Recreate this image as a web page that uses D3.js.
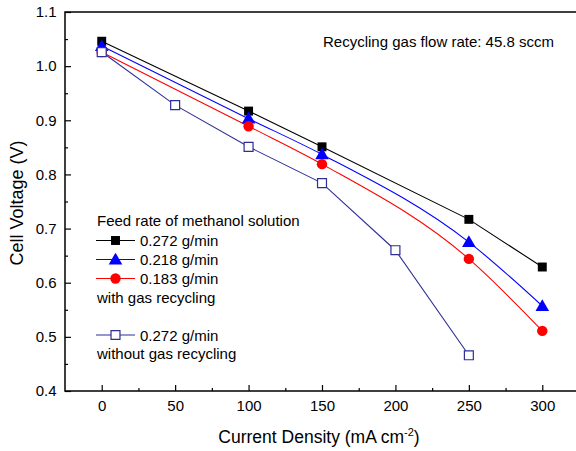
<!DOCTYPE html>
<html>
<head>
<meta charset="utf-8">
<script src="https://cdn.jsdelivr.net/npm/d3@7"></script>
<style>
  body { margin: 0; background: #fff; }
  text { font-family: "Liberation Sans", Arial, sans-serif; }
</style>
</head>
<body>
<div id="chart"></div>
<script>
// data
const currentBlack = [0, 100, 150, 250, 300];
const v272 = [1.046, 0.917, 0.851, 0.717, 0.629];
const v218 = [1.037, 0.903, 0.837, 0.675, 0.557];
const v183 = [1.026, 0.889, 0.819, 0.644, 0.511];
const currentOpen = [0, 50, 100, 150, 200, 250];
const v272NoRec = [1.026, 0.928, 0.851, 0.784, 0.660, 0.466];
const xTicks = [0, 50, 100, 150, 200, 250, 300];
const yTicks = [0.4, 0.5, 0.6, 0.7, 0.8, 0.9, 1.0, 1.1];

const W = 576, H = 451;
const margin = { top: 12, right: -3, bottom: 60, left: 65 };
const width = W - margin.left - margin.right;
const height = H - margin.top - margin.bottom;

const svg = d3.select('#chart').append('svg')
  .attr('width', W).attr('height', H);
const g = svg.append('g')
  .attr('transform', `translate(${margin.left},${margin.top})`);

const x = d3.scaleLinear().domain([-25, 325]).range([0, width]);
const y = d3.scaleLinear().domain([0.4, 1.1]).range([height, 0]);

// axes, ticks pointing inward
const xMinor = d3.range(-25, 326, 25).filter(v => v % 50 !== 0 && v > -25);
g.append('g').attr('transform', `translate(0,${height})`)
  .call(d3.axisBottom(x).tickValues(xMinor).tickSize(-3).tickFormat(''))
  .call(a => a.select('.domain').remove());
g.append('g').attr('transform', `translate(0,${height})`)
  .call(d3.axisBottom(x).tickValues(xTicks).tickSize(-6).tickPadding(9.5).tickFormat(d3.format('d')))
  .call(a => a.select('.domain').remove())
  .call(a => a.selectAll('text').attr('font-size', 15).attr('fill', '#000'));

const yMinor = d3.range(0.45, 1.1, 0.1);
g.append('g')
  .call(d3.axisLeft(y).tickValues(yMinor).tickSize(-3).tickFormat(''))
  .call(a => a.select('.domain').remove());
g.append('g')
  .call(d3.axisLeft(y).tickValues(yTicks).tickSize(-6).tickPadding(8.5).tickFormat(d3.format('.1f')))
  .call(a => a.select('.domain').remove())
  .call(a => a.selectAll('text').attr('font-size', 15).attr('fill', '#000'));

g.selectAll('.tick line').attr('stroke', '#000').attr('stroke-width', 1.2);

// frame
g.append('rect').attr('width', width).attr('height', height)
  .attr('fill', 'none').attr('stroke', '#000').attr('stroke-width', 1.5);

// axis titles
const xt = svg.append('text').attr('x', 319).attr('y', 443)
  .attr('text-anchor', 'middle').attr('font-size', 17.5);
xt.append('tspan').text('Current Density (mA cm');
xt.append('tspan').attr('font-size', 11).attr('dy', -7).text('-2');
xt.append('tspan').attr('dy', 7).text(')');

svg.append('text').attr('transform', 'translate(23,203) rotate(-90)')
  .attr('text-anchor', 'middle').attr('font-size', 18).text('Cell Voltage (V)');

// series
const series = [
  { xs: currentBlack, ys: v272, color: '#000000', marker: 'square', fill: true, curve: d3.curveLinear },
  { xs: currentBlack, ys: v218, color: '#0000ff', marker: 'triangle', fill: true, curve: d3.curveMonotoneX },
  { xs: currentBlack, ys: v183, color: '#ff0000', marker: 'circle', fill: true, curve: d3.curveMonotoneX },
  { xs: currentOpen, ys: v272NoRec, color: '#2e2e96', marker: 'square', fill: false, curve: d3.curveLinear }
];

function drawMarker(sel, s, cx, cy) {
  const sym = s.marker === 'square' ? d3.symbolSquare
    : s.marker === 'triangle' ? d3.symbolTriangle : d3.symbolCircle;
  const size = s.marker === 'square' ? 80 : s.marker === 'triangle' ? 80 : 85;
  sel.append('path')
    .attr('d', d3.symbol().type(sym).size(size)())
    .attr('transform', `translate(${cx},${cy + (s.marker === 'triangle' ? 1 : 0)})`)
    .attr('fill', s.fill ? s.color : '#fff')
    .attr('stroke', s.color)
    .attr('stroke-width', s.fill ? 0 : 1.2);
}

series.forEach(s => {
  const pts = s.xs.map((v, i) => [v, s.ys[i]]);
  g.append('path')
    .attr('d', d3.line().x(d => x(d[0])).y(d => y(d[1])).curve(s.curve)(pts))
    .attr('fill', 'none').attr('stroke', s.color).attr('stroke-width', 1.1);
});
series.forEach(s => {
  s.xs.forEach((v, i) => drawMarker(g, s, x(v), y(s.ys[i])));
});

// annotation
svg.append('text').attr('x', 323).attr('y', 47).attr('font-size', 15)
  .text('Recycling gas flow rate: 45.8 sccm');

// legend
const lg = svg.append('g').attr('font-size', 15);
lg.append('text').attr('x', 97).attr('y', 226).text('Feed rate of methanol solution');
const legendRows = [
  { s: series[0], y: 240.5, label: '0.272 g/min' },
  { s: series[1], y: 259.5, label: '0.218 g/min' },
  { s: series[2], y: 278.5, label: '0.183 g/min' },
  { s: series[3], y: 335, label: '0.272 g/min' }
];
legendRows.forEach(r => {
  lg.append('line').attr('x1', 96).attr('x2', 135).attr('y1', r.y).attr('y2', r.y)
    .attr('stroke', r.s.color).attr('stroke-width', 1.1);
  drawMarker(lg, r.s, 115.5, r.y);
  lg.append('text').attr('x', 140).attr('y', r.y + 5.5).text(r.label);
});
lg.append('text').attr('x', 97).attr('y', 303).text('with gas recycling');
lg.append('text').attr('x', 97).attr('y', 358.5).text('without gas recycling');
</script>
</body>
</html>
